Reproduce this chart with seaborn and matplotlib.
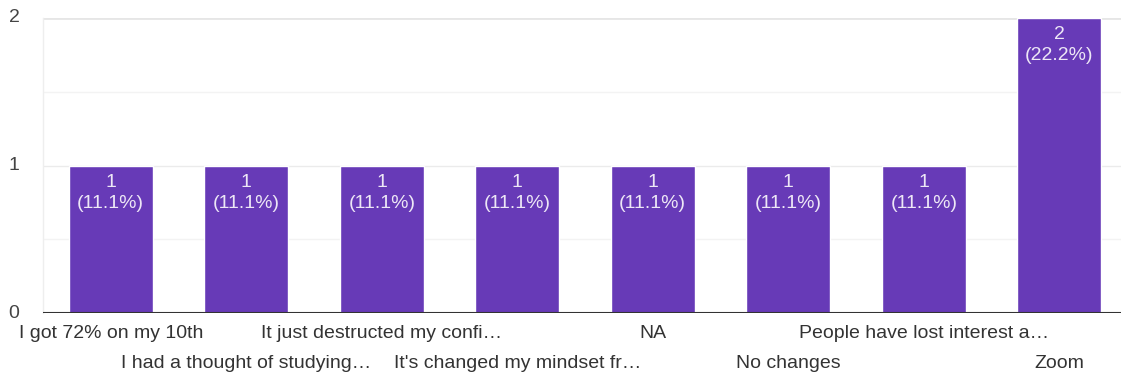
import matplotlib
matplotlib.use("Agg")
import matplotlib.pyplot as plt
import seaborn as sns
import pandas as pd
from matplotlib.transforms import ScaledTranslation

categories = ["I got 72% on my 10th", "I had a thought of studying…", "It just destructed my confi…",
              "It's changed my mindset fr…", "NA", "No changes", "People have lost interest a…", "Zoom"]
counts = [1, 1, 1, 1, 1, 1, 1, 2]
y_ticks = [0, 1, 2]

sns.set_theme(style="white")
plt.rcParams['font.family'] = ['Liberation Sans', 'DejaVu Sans']

df = pd.DataFrame({"cat": categories, "n": counts})
total = sum(counts)

fig = plt.figure(figsize=(11.21, 3.74), dpi=100)
ax = fig.add_axes([43/1121, 61/374, (1127 - 43)/1121, (313-18)/374])

sns.barplot(data=df, x="cat", y="n", color="#673ab7", saturation=1, width=0.62, ax=ax, zorder=3)

ax.set_xlim(-0.5, len(categories) - 0.5)
ax.set_ylim(0, 2)
for yv in [0.5, 1.5]:
    ax.axhline(yv, color="#f3f3f3", lw=1, zorder=1)
ax.axhline(1, color="#ebebeb", lw=1, zorder=1)
ax.axhline(2, color="#e6e6e6", lw=2, zorder=1)
ax.axhline(0, color="#333333", lw=1.5, zorder=4)

for s in ax.spines.values():
    s.set_visible(False)
ax.spines["left"].set_visible(True)
ax.spines["left"].set_color("#eeeeee")
ax.spines["left"].set_linewidth(1)

ax.set_yticks(y_ticks)
ax.set_yticklabels([str(t) for t in y_ticks], fontsize=14, color="#444444")
ax.tick_params(axis="y", length=0, pad=17)
for lab in ax.get_yticklabels():
    lab.set_verticalalignment("center")

ax.set_xticks(range(len(categories)))
ax.set_xticklabels(categories, fontsize=14, color="#333333")
ax.tick_params(axis="x", length=0, pad=9)
for i, lab in enumerate(ax.get_xticklabels()):
    if i % 2 == 1:
        lab.set_transform(lab.get_transform() + ScaledTranslation(0, -0.29, fig.dpi_scale_trans))
ax.set_xlabel("")
ax.set_ylabel("")

for i, v in enumerate(counts):
    ax.annotate(f"{v}\n({v/total*100:.1f}%)", xy=(i, v), xytext=(0, -6), textcoords="offset points",
                ha="center", va="top", fontsize=14, color="#ede7f6", linespacing=1.3, zorder=5)

fig.savefig("out.png", dpi=100)
